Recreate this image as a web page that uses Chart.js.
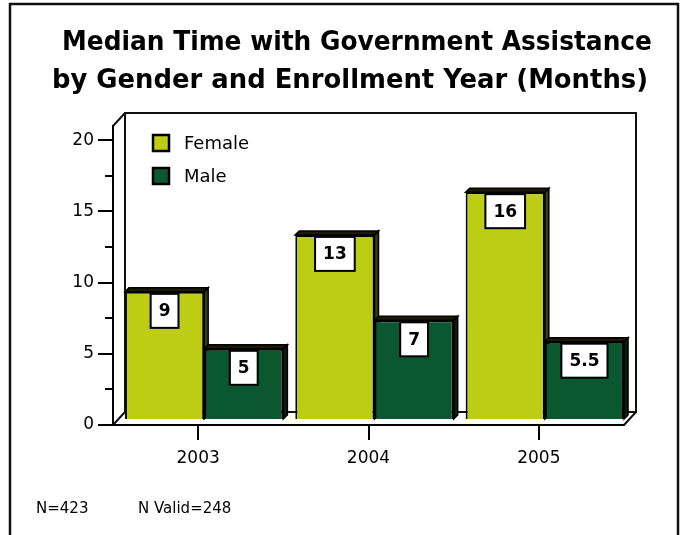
<!DOCTYPE html>
<html>
<head>
<meta charset="utf-8">
<script src="https://cdn.jsdelivr.net/npm/chart.js@4.4.1/dist/chart.umd.min.js"></script>
<style>
  html, body { margin: 0; padding: 0; background: #fff; }
  #wrap { width: 685px; height: 535px; }
</style>
</head>
<body>
<div id="wrap"><canvas id="grafico" width="685" height="535"></canvas></div>
<script>
// ============================
// DATA
// ============================
const years = ['2003', '2004', '2005'];
const female = [9, 13, 16];
const male = [5, 7, 5.5];
const yTicks = [0, 5, 10, 15, 20];
const yMinor = [2.5, 7.5, 12.5, 17.5];
const seriesNames = ['Female', 'Male'];
const titleLines = ['Median Time with Government Assistance', 'by Gender and Enrollment Year (Months)'];
const footNotes = ['N=423', 'N Valid=248'];

const FONT = "'DejaVu Sans', Verdana, sans-serif";
const colFemale = '#BCCD14';
const colMale = '#0B5730';
const DX = 6, DY = -5;   // 3d shift of the bars
const DEPTH = 4;         // depth of the bar tops

// ============================
// 3D LOOK + EXTRA TEXT
// ============================
const deco = {
  id: 'deco',
  beforeDraw(chart) {
    const ctx = chart.ctx;
    const a = chart.chartArea;
    ctx.save();
    // outer frame
    ctx.strokeStyle = '#111';
    ctx.lineWidth = 2.5;
    ctx.strokeRect(10, 4, 668, 545);

    // title (squeezed a bit, original font is narrower)
    ctx.fillStyle = '#000';
    ctx.font = 'bold 26px ' + FONT;
    ctx.textAlign = 'center';
    ctx.textBaseline = 'alphabetic';
    ctx.fillText(titleLines[0], 357, 50, 590);
    ctx.fillText(titleLines[1], 350, 88, 596);

    // footnotes
    ctx.font = '15px ' + FONT;
    ctx.textAlign = 'left';
    ctx.textBaseline = 'middle';
    ctx.fillText(footNotes[0], 36, 509);
    ctx.fillText(footNotes[1], 138, 509);

    // back wall + floor
    const bx = 12, by = -13;
    ctx.strokeStyle = '#111';
    ctx.lineWidth = 2;
    ctx.beginPath();
    ctx.moveTo(a.left + bx, a.bottom + by);
    ctx.lineTo(a.left + bx, a.top + by);
    ctx.lineTo(a.right + bx, a.top + by);
    ctx.lineTo(a.right + bx, a.bottom + by);
    ctx.lineTo(a.left + bx, a.bottom + by);
    // diagonals
    ctx.moveTo(a.left, a.top); ctx.lineTo(a.left + bx, a.top + by);
    ctx.moveTo(a.left, a.bottom); ctx.lineTo(a.left + bx, a.bottom + by);
    ctx.moveTo(a.right, a.bottom); ctx.lineTo(a.right + bx, a.bottom + by);
    ctx.stroke();
    ctx.restore();
  },
  beforeDatasetsDraw(chart) {
    const ctx = chart.ctx;
    ctx.save();
    ctx.translate(DX, DY);
    // side and top faces, drawn first so the bars cover what is hidden
    chart.data.datasets.forEach((ds, i) => {
      chart.getDatasetMeta(i).data.forEach(bar => {
        const L = bar.x - bar.width / 2, R = bar.x + bar.width / 2;
        const T = bar.y, B = bar.base;
        ctx.fillStyle = i === 0 ? '#3a3f05' : '#06200f';
        ctx.strokeStyle = '#000';
        ctx.lineWidth = 1.5;
        ctx.beginPath();
        ctx.moveTo(R, T); ctx.lineTo(R + DEPTH, T - DEPTH);
        ctx.lineTo(R + DEPTH, B - DEPTH); ctx.lineTo(R, B);
        ctx.closePath(); ctx.fill(); ctx.stroke();
        ctx.fillStyle = '#1a1a00';
        ctx.beginPath();
        ctx.moveTo(L, T); ctx.lineTo(L + DEPTH, T - DEPTH);
        ctx.lineTo(R + DEPTH, T - DEPTH); ctx.lineTo(R, T);
        ctx.closePath(); ctx.fill(); ctx.stroke();
      });
    });
  },
  afterDatasetsDraw(chart) {
    const ctx = chart.ctx;
    ctx.restore();
    // value boxes
    ctx.save();
    ctx.font = 'bold 17px ' + FONT;
    ctx.textAlign = 'center';
    ctx.textBaseline = 'middle';
    chart.data.datasets.forEach((ds, i) => {
      chart.getDatasetMeta(i).data.forEach((bar, j) => {
        const txt = String(ds.data[j]);
        const w = ctx.measureText(txt).width + 16;
        const h = 34;
        const cx = bar.x + DX, top = bar.y + DY + 2;
        ctx.fillStyle = '#fff';
        ctx.fillRect(cx - w / 2, top, w, h);
        ctx.strokeStyle = '#000';
        ctx.lineWidth = 2;
        ctx.strokeRect(cx - w / 2, top, w, h);
        ctx.fillStyle = '#000';
        ctx.fillText(txt, cx, top + h / 2 + 1);
      });
    });
    ctx.restore();
  },
  afterDraw(chart) {
    const ctx = chart.ctx;
    const y = chart.scales.y;
    ctx.save();
    // minor ticks
    ctx.strokeStyle = '#000';
    ctx.lineWidth = 2;
    ctx.beginPath();
    yMinor.forEach(v => {
      const py = Math.round(y.getPixelForValue(v));
      ctx.moveTo(chart.chartArea.left - 8, py);
      ctx.lineTo(chart.chartArea.left, py);
    });
    ctx.stroke();

    // legend
    ctx.font = '18px ' + FONT;
    ctx.textBaseline = 'middle';
    ctx.textAlign = 'left';
    chart.data.datasets.forEach((ds, i) => {
      const ly = 135 + i * 33;
      ctx.fillStyle = ds.backgroundColor;
      ctx.fillRect(153, ly, 16, 16);
      ctx.strokeStyle = '#000';
      ctx.lineWidth = 2.5;
      ctx.strokeRect(153, ly, 16, 16);
      ctx.fillStyle = '#000';
      ctx.fillText(ds.label, 184, ly + 9);
    });
    ctx.restore();
  }
};

// ============================
// GRAFICO
// ============================
new Chart(document.getElementById('grafico'), {
  type: 'bar',
  data: {
    labels: years,
    datasets: [
      { label: seriesNames[0], data: female, backgroundColor: colFemale, borderColor: '#000', borderWidth: 2, categoryPercentage: 0.93, barPercentage: 1 },
      { label: seriesNames[1], data: male, backgroundColor: colMale, borderColor: '#000', borderWidth: 2, categoryPercentage: 0.93, barPercentage: 1 }
    ]
  },
  options: {
    responsive: false,
    animation: false,
    layout: { padding: { left: 14, top: 126, right: 61, bottom: 50 } },
    plugins: { legend: { display: false }, title: { display: false }, tooltip: { enabled: false } },
    scales: {
      x: {
        grid: { offset: false, drawOnChartArea: false, tickLength: 15, color: '#000', lineWidth: 2 },
        border: { color: '#000', width: 2 },
        ticks: { color: '#000', font: { family: FONT, size: 17 }, padding: 8 },
        afterFit: s => { s.height = 60; }
      },
      y: {
        min: 0, max: 21,
        afterBuildTicks: s => { s.ticks = yTicks.map(v => ({ value: v })); },
        grid: { drawOnChartArea: false, tickLength: 15, color: '#000', lineWidth: 2 },
        border: { color: '#000', width: 2 },
        ticks: { color: '#000', font: { family: FONT, size: 17 }, padding: 4 },
        afterFit: s => { s.width = 99; }
      }
    }
  },
  plugins: [deco]
});
</script>
</body>
</html>
